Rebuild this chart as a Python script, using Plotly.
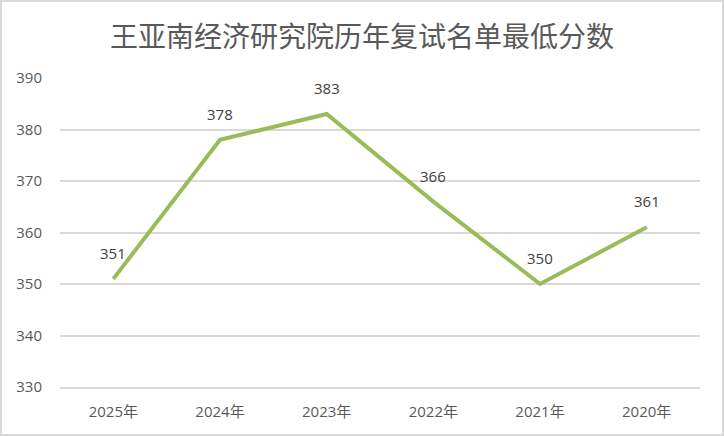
import plotly.graph_objects as go

years = ["2025年", "2024年", "2023年", "2022年", "2021年", "2020年"]
scores = [351, 378, 383, 366, 350, 361]
title = "王亚南经济研究院历年复试名单最低分数"

W, H = 724, 436
ml, mr, mt, mb = 60, 24, 78, 49
pw, ph = W - ml - mr, H - mt - mb

fig = go.Figure()
fig.add_trace(go.Scatter(
    x=years, y=scores, mode="lines",
    line=dict(color="#9BBB59", width=4),
    hoverinfo="skip",
))
for xv, yv in zip(years, scores):
    fig.add_annotation(x=xv, y=yv, text=str(yv), showarrow=False,
                       yshift=26, font=dict(family="Open Sans, Noto Sans", size=15, color="#404040"))

fig.add_shape(type="rect", xref="paper", yref="paper",
              x0=(1 - ml) / pw, x1=(W - 1 - ml) / pw,
              y0=-(H - 1 - (mt + ph)) / ph, y1=(mt + ph - 1) / ph,
              line=dict(color="#D9D9D9", width=2), layer="below")

fig.update_layout(
    width=W, height=H,
    margin=dict(l=ml, r=mr, t=mt, b=mb),
    paper_bgcolor="white", plot_bgcolor="white",
    showlegend=False,
    title=dict(text=title, x=0.5, xanchor="center", y=1 - 37 / H, yanchor="middle",
               font=dict(family="Noto Sans CJK SC", size=28, color="#595959")),
    xaxis=dict(type="category", range=[-0.5, 5.5], showgrid=False, zeroline=False,
               showline=True, linecolor="#D9D9D9", linewidth=1.5, ticks="", ticklen=0,
               ticklabelstandoff=10,
               tickfont=dict(family="Open Sans, Noto Sans CJK SC", size=15, color="#595959")),
    yaxis=dict(range=[330, 390], dtick=10, showgrid=True, gridcolor="#D9D9D9", gridwidth=1.5,
               zeroline=False, showline=False, ticks="", ticklabelstandoff=17,
               tickfont=dict(family="Open Sans, Noto Sans", size=15, color="#595959")),
)
fig.write_html("out.html", config={"displayModeBar": False},
               post_script="document.body.style.margin='0';document.body.style.overflow='hidden';")
